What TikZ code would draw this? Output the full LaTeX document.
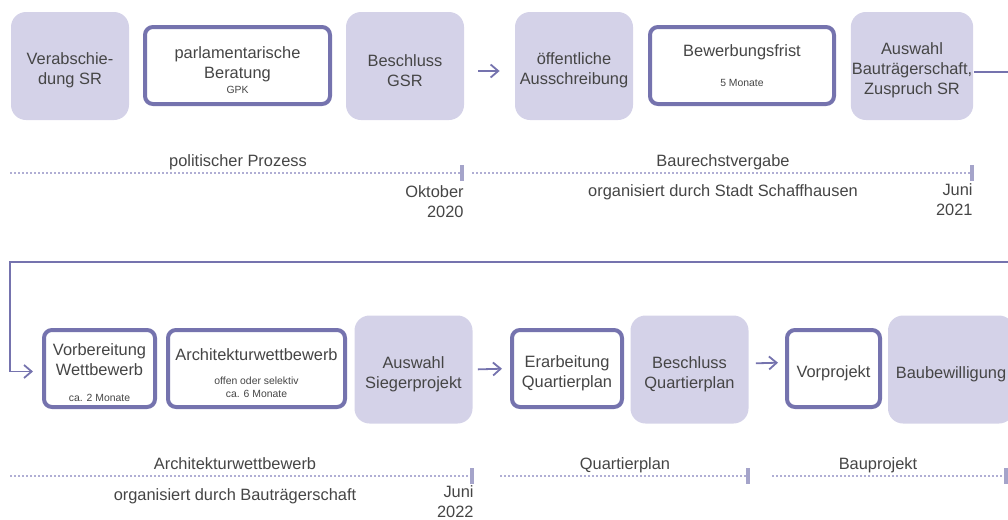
\documentclass[tikz,border=0pt]{standalone}
\usepackage{fontspec}
\setmainfont{Liberation Sans}
\usetikzlibrary{arrows.meta}
\definecolor{lila}{HTML}{7573AE}
\definecolor{lilafill}{HTML}{D4D2E8}
\definecolor{lilapunkt}{HTML}{B0AED4}
\definecolor{textgrau}{HTML}{454545}
\newcommand{\hoch}{\rule{0pt}{10.5pt}}
\tikzset{
  fillbox/.style={fill=lilafill,rounded corners=7.5pt,minimum width=59pt,minimum height=54pt,
    align=center,inner sep=0.5pt,text=textgrau,font=\fontsize{8.2}{10}\selectfont},
  linebox/.style={draw=lila,line width=2pt,fill=white,rounded corners=4pt,minimum height=38.5pt,
    align=center,inner sep=0.5pt,text=textgrau,font=\fontsize{8.2}{10}\selectfont},
  flow/.style={draw=lila,line width=0.9pt,-{Straight Barb[length=3.8pt,width=6.5pt]}},
  zeitachse/.style={draw=lilapunkt,line width=0.8pt,dash pattern=on 0.8pt off 1.2pt},
  marke/.style={draw=lila!65,line width=1.6pt},
  etikett/.style={text=textgrau,font=\fontsize{8.2}{10}\selectfont,inner sep=0pt,align=center}
}
\newcommand{\klein}[1]{{\fontsize{5.2}{6}\selectfont #1}}
\begin{document}
\begin{tikzpicture}[x=0.5pt,y=-0.5pt]
\useasboundingbox (0,0) rectangle (1008,520);
\clip (0,0) rectangle (1008,520);
% erste Zeile
\node[fillbox] (verab) at (70,66) {\hoch Verabschie-\\dung SR};
\node[linebox,minimum width=92.5pt] (parl) at (237.5,65.5) {\hoch parlamentarische\\Beratung\\[-2.5pt]\klein{GPK}};
\node[fillbox] (gsr) at (405,66) {\hoch Beschluss\\GSR};
\node[fillbox] (oeff) at (574,66) {\hoch öffentliche\\Ausschreibung};
\node[linebox,minimum width=92pt] (frist) at (742,65.5) {Bewerbungsfrist\\[5pt]\klein{5 Monate}};
\node[fillbox,minimum width=61pt] (ausw) at (912,66) {\hoch Auswahl\\Bauträgerschaft,\\Zuspruch SR};
\draw[flow,shorten <=7pt,shorten >=7.5pt] ([yshift=-2.5pt]gsr.east) -- ([yshift=-2.5pt]oeff.west);
% zweite Zeile
\node[linebox,minimum width=55.5pt] (vorb) at (99.5,368.5) {\hoch Vorbereitung\\Wettbewerb\\[3pt]\klein{ca. 2 Monate}};
\node[linebox,minimum width=88.5pt] (arch) at (256.5,368.5) {\hoch Architekturwettbewerb\\[2pt]\klein{offen oder selektiv}\\[-3.5pt]\klein{ca. 6 Monate}};
\node[fillbox] (sieg) at (413.5,369.5) {\hoch Auswahl\\Siegerprojekt};
\node[linebox,minimum width=55pt] (erarb) at (567,368.5) {\hoch Erarbeitung\\Quartierplan};
\node[fillbox] (beschq) at (689.5,369.5) {\hoch Beschluss\\Quartierplan};
\node[linebox,minimum width=46.5pt] (vorp) at (833.5,368.5) {\hoch Vorprojekt};
\node[fillbox,minimum width=63pt] (baub) at (951,369.5) {\hoch Baubewilligung};
\draw[flow,shorten <=2.5pt,shorten >=4pt] (sieg.east) -- (erarb.west);
\draw[flow,shorten <=3.5pt,shorten >=3.5pt] ([yshift=3pt]beschq.east) -- ([yshift=3pt]vorp.west);
% Umlauf zur zweiten Zeile
\coordinate (loopR) at (1030,262);
\coordinate (loopL) at (10,262);
\draw[flow,shorten >=4.5pt] ([yshift=-3pt]ausw.east) -| (loopR) -- (loopL) |- ([yshift=-1.5pt]vorb.west);
% Zeitachsen
\draw[zeitachse] (10,173) -- (462,173);
\draw[zeitachse] (472,173) -- (972,173);
\draw[marke] (462,165) -- (462,181);
\draw[marke] (972,165) -- (972,181);
\node[etikett,anchor=base] (polit) at (238,166) {politischer Prozess};
\node[etikett,anchor=north east,align=right] (okt) at (464,185) {Oktober\\2020};
\node[etikett,anchor=base] (baur) at (723,166) {Baurechstvergabe};
\node[etikett,anchor=base] (stadt) at (723,196) {organisiert durch Stadt Schaffhausen};
\node[etikett,anchor=north east,align=right] (juni1) at (973,183) {Juni\\2021};
\draw[zeitachse] (10,476) -- (472,476);
\draw[zeitachse] (500,476) -- (748,476);
\draw[zeitachse] (772,476) -- (1006,476);
\draw[marke] (472,468) -- (472,484);
\draw[marke] (748,468) -- (748,484);
\draw[marke] (1006,468) -- (1006,484);
\node[etikett,anchor=base] (archlab) at (235,469) {Architekturwettbewerb};
\node[etikett,anchor=base] (traeger) at (235,500) {organisiert durch Bauträgerschaft};
\node[etikett,anchor=north east,align=right] (juni2) at (474,485) {Juni\\2022};
\node[etikett,anchor=base] (qplan) at (625,469) {Quartierplan};
\node[etikett,anchor=base] (bauproj) at (878,469) {Bauprojekt};
\end{tikzpicture}
\end{document}
